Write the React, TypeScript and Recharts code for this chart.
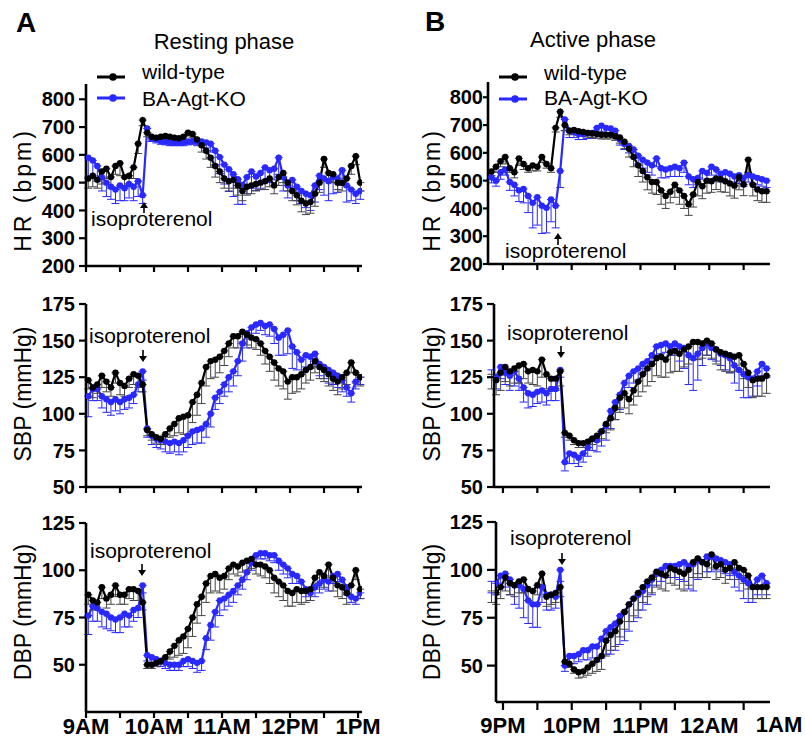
import React from "react";
import { LineChart, Line, XAxis, YAxis, ErrorBar } from "recharts";

const FONT = '"Liberation Sans", Arial, Helvetica, sans-serif';
const BLUE = "#2828ff";

// minutes after 9AM (resting) / 9PM (active)
const restTimes = [2, 6, 10, 14, 18, 22, 26, 30, 34, 38, 42, 46, 50, 54, 58, 62, 66, 70, 74, 78, 82, 86, 90, 94, 98, 102, 106, 110, 114, 118, 122, 126, 130, 134, 138, 142, 146, 150, 154, 158, 162, 166, 170, 174, 178, 182, 186, 190, 194, 198, 202, 206, 210, 214, 218, 222, 226, 230, 234, 238, 242];
const activeTimes = [-10, -6, -2, 2, 6, 10, 14, 18, 22, 26, 30, 34, 38, 42, 46, 50, 54, 58, 62, 66, 70, 74, 78, 82, 86, 90, 94, 98, 102, 106, 110, 114, 118, 122, 126, 130, 134, 138, 142, 146, 150, 154, 158, 162, 166, 170, 174, 178, 182, 186, 190, 194, 198, 202, 206, 210, 214, 218, 222, 226, 230];

const restHourLabels = ["9AM", "10AM", "11AM", "12PM", "1PM"];
const activeHourLabels = ["9PM", "10PM", "11PM", "12AM", "1AM"];

const hrTicks = [200, 300, 400, 500, 600, 700, 800];
const sbpTicks = [50, 75, 100, 125, 150, 175];
const dbpTicks = [50, 75, 100, 125];

// HR, resting
const hrRestWT = [515, 525, 510, 540, 550, 520, 560, 570, 520, 525, 555, 640, 725, 680, 665, 662, 665, 668, 665, 662, 660, 665, 680, 675, 655, 635, 615, 590, 560, 540, 515, 505, 510, 490, 470, 485, 490, 495, 500, 505, 515, 490, 520, 535, 500, 470, 455, 435, 425, 430, 460, 500, 585, 535, 530, 500, 500, 515, 560, 595, 500];
const hrRestWTErr = [35, 40, 30, 45, 35, 40, 30, 45, 35, 30, 40, 35, 20, 15, 12, 12, 12, 12, 12, 12, 12, 12, 12, 12, 15, 25, 30, 35, 40, 40, 35, 35, 30, 35, 35, 30, 30, 25, 25, 30, 30, 30, 30, 35, 30, 35, 35, 40, 40, 40, 45, 35, 30, 30, 30, 25, 30, 30, 30, 30, 30];
const hrRestKO = [590, 580, 560, 520, 500, 485, 475, 490, 480, 495, 485, 505, 455, 695, 660, 655, 650, 648, 645, 645, 645, 645, 648, 650, 648, 648, 645, 640, 615, 592, 565, 548, 530, 512, 492, 520, 540, 522, 535, 555, 545, 550, 590, 520, 490, 510, 485, 470, 460, 455, 490, 525, 515, 505, 520, 515, 545, 490, 475, 460, 470];
const hrRestKOErr = [70, 60, 55, 50, 50, 45, 50, 55, 45, 50, 50, 55, 30, 15, 12, 12, 12, 12, 12, 12, 12, 12, 12, 12, 15, 15, 20, 30, 50, 60, 70, 80, 80, 90, 70, 60, 60, 50, 55, 50, 45, 40, 60, 50, 45, 40, 50, 45, 50, 55, 60, 50, 60, 70, 60, 50, 55, 60, 40, 35, 30];

// HR, active
const hrActWT = [533, 550, 570, 585, 545, 530, 580, 560, 545, 555, 550, 585, 560, 545, 690, 748, 700, 680, 682, 678, 675, 672, 670, 668, 665, 665, 665, 660, 655, 640, 615, 585, 555, 535, 512, 495, 495, 465, 445, 460, 485, 465, 445, 415, 450, 495, 480, 500, 498, 508, 505, 498, 490, 482, 512, 486, 575, 485, 468, 462, 462];
const hrActWTErr = [15, 20, 20, 25, 15, 20, 25, 20, 15, 20, 15, 20, 15, 15, 15, 20, 20, 15, 15, 15, 15, 15, 15, 15, 15, 15, 15, 15, 20, 25, 30, 35, 40, 40, 45, 40, 45, 50, 45, 40, 45, 50, 45, 40, 45, 50, 45, 45, 40, 40, 45, 40, 45, 45, 45, 40, 45, 40, 40, 40, 40];
const hrActKO = [512, 500, 530, 540, 495, 485, 465, 470, 445, 420, 440, 410, 402, 432, 410, 535, 720, 680, 675, 668, 668, 672, 672, 690, 698, 690, 688, 680, 648, 632, 625, 612, 590, 575, 565, 555, 580, 545, 540, 545, 550, 545, 565, 515, 505, 510, 535, 528, 550, 540, 525, 530, 525, 515, 520, 510, 520, 515, 510, 505, 500];
const hrActKOErr = [20, 20, 25, 20, 30, 40, 40, 50, 60, 90, 100, 100, 90, 80, 80, 60, 40, 25, 20, 20, 20, 20, 20, 20, 20, 20, 20, 20, 20, 20, 25, 30, 30, 30, 35, 35, 30, 35, 30, 30, 35, 30, 35, 30, 30, 25, 30, 30, 30, 30, 30, 30, 30, 25, 30, 30, 25, 25, 25, 25, 25];

// SBP, resting
const sbpRestWT = [123, 118, 120, 126, 122, 118, 128, 121, 119, 124, 127, 126, 120, 89, 86, 84, 83, 86, 90, 93, 97, 98, 99, 108, 113, 121, 132, 136, 137, 139, 143, 148, 153, 153, 156, 154, 152, 151, 148, 143, 139, 135, 131, 129, 122, 125, 125, 127, 130, 132, 136, 132, 130, 127, 124, 122, 125, 128, 135, 128, 125];
const sbpRestWTErr = [6, 7, 6, 8, 7, 6, 7, 8, 7, 6, 7, 8, 5, 4, 4, 4, 4, 5, 6, 8, 10, 12, 13, 14, 14, 14, 13, 12, 12, 11, 10, 9, 8, 8, 7, 7, 7, 7, 8, 9, 10, 12, 12, 12, 12, 11, 10, 10, 9, 9, 8, 8, 8, 8, 8, 9, 8, 8, 7, 7, 6];
const sbpRestKO = [112, 117, 117, 112, 110, 108, 110, 108, 110, 111, 113, 120, 129, 90, 85, 83, 82, 81, 80, 81, 80, 82, 85, 88, 89, 90, 93, 100, 111, 115, 120, 125, 129, 136, 148, 155, 159, 161, 162, 160, 161, 158, 152, 154, 157, 146, 142, 137, 140, 139, 141, 134, 132, 130, 128, 126, 123, 118, 114, 122, 125];
const sbpRestKOErr = [14, 8, 8, 8, 9, 9, 8, 8, 7, 7, 6, 5, 6, 6, 6, 6, 6, 7, 7, 7, 8, 8, 8, 9, 9, 10, 9, 9, 8, 8, 8, 10, 10, 10, 12, 10, 8, 6, 5, 6, 8, 10, 12, 14, 16, 15, 12, 10, 8, 8, 9, 8, 8, 9, 8, 8, 8, 6, 6, 5, 5];

// SBP, active
const sbpActWT = [127, 123, 128, 132, 129, 131, 133, 134, 129, 130, 129, 137, 127, 124, 124, 129, 87, 85, 82, 80, 80, 81, 83, 85, 88, 93, 97, 104, 111, 114, 110, 116, 122, 127, 131, 134, 138, 139, 137, 142, 143, 141, 144, 146, 149, 149, 148, 150, 148, 144, 142, 141, 140, 139, 140, 134, 128, 123, 124, 124, 126];
const sbpActWTErr = [10, 10, 12, 10, 10, 10, 12, 10, 8, 10, 10, 12, 10, 8, 8, 10, 3, 3, 3, 3, 3, 4, 4, 4, 5, 6, 8, 8, 10, 10, 10, 10, 10, 12, 12, 12, 12, 14, 12, 14, 14, 12, 12, 12, 12, 12, 10, 10, 10, 10, 12, 12, 12, 10, 10, 10, 10, 12, 12, 12, 12];
const sbpActKO = [130, 125, 132, 128, 126, 129, 124, 118, 114, 113, 115, 116, 114, 117, 117, 130, 67, 73, 72, 70, 73, 77, 83, 82, 88, 92, 102, 108, 113, 121, 126, 129, 131, 134, 136, 140, 146, 147, 148, 146, 148, 146, 145, 140, 138, 141, 145, 148, 145, 144, 141, 140, 138, 133, 130, 127, 125, 124, 129, 134, 131];
const sbpActKOErr = [5, 8, 8, 8, 10, 10, 8, 10, 10, 8, 8, 8, 8, 8, 8, 5, 6, 7, 6, 6, 6, 6, 8, 8, 10, 10, 12, 12, 10, 10, 8, 8, 8, 6, 6, 6, 6, 6, 6, 6, 8, 10, 14, 20, 22, 18, 12, 8, 8, 8, 8, 10, 10, 12, 14, 16, 14, 12, 10, 8, 6];

// DBP, resting
const dbpRestWT = [87, 84, 83, 91, 85, 87, 92, 87, 87, 90, 90, 89, 83, 50, 50, 51, 52, 54, 57, 60, 63, 65, 69, 75, 82, 86, 93, 97, 98, 96, 97, 101, 103, 102, 104, 105, 106, 103, 103, 102, 100, 96, 94, 92, 89, 88, 90, 89, 89, 90, 96, 99, 97, 103, 96, 92, 91, 88, 92, 100, 90];
const dbpRestWTErr = [5, 5, 4, 6, 5, 5, 6, 5, 5, 5, 6, 5, 4, 2, 2, 2, 2, 3, 4, 6, 8, 9, 10, 10, 10, 10, 10, 9, 9, 8, 7, 6, 5, 5, 5, 5, 5, 5, 6, 6, 7, 8, 8, 8, 8, 7, 7, 7, 6, 6, 6, 6, 6, 7, 7, 6, 6, 6, 6, 5, 5];
const dbpRestKO = [76, 81, 80, 78, 77, 75, 74, 75, 77, 76, 79, 80, 92, 55, 54, 53, 52, 51, 50, 50, 50, 52, 53, 52, 51, 52, 64, 71, 78, 84, 85, 87, 89, 92, 95, 99, 104, 108, 109, 109, 108, 108, 105, 103, 101, 98, 97, 94, 90, 88, 91, 93, 95, 94, 97, 98, 95, 91, 86, 85, 88];
const dbpRestKOErr = [10, 8, 7, 8, 8, 7, 7, 8, 7, 6, 6, 5, 4, 3, 3, 3, 3, 3, 3, 3, 3, 3, 4, 4, 5, 5, 6, 8, 8, 8, 6, 6, 6, 5, 5, 4, 4, 4, 3, 3, 3, 4, 5, 5, 5, 5, 4, 4, 4, 4, 5, 5, 5, 5, 4, 4, 4, 4, 3, 3, 3];

// DBP, active
const dbpActWT = [89, 88, 91, 96, 93, 92, 94, 95, 90, 89, 92, 98, 86, 87, 88, 91, 52, 51, 48, 46.5, 47, 49, 51, 53, 55, 63, 66, 68, 73, 78, 82, 85, 88, 91, 94, 96, 99, 98, 97, 101, 100, 99, 98, 100, 104, 106, 104, 103, 108, 102, 103, 100, 101, 104, 101, 100, 97, 91, 91, 91, 91];
const dbpActWTErr = [6, 6, 6, 7, 6, 6, 6, 7, 6, 6, 5, 6, 5, 5, 5, 5, 2, 2, 2, 3, 3, 4, 5, 6, 7, 8, 8, 8, 8, 9, 9, 9, 9, 8, 8, 8, 8, 8, 8, 8, 8, 9, 9, 8, 8, 8, 8, 7, 7, 7, 7, 7, 6, 6, 6, 7, 7, 6, 6, 6, 6];
const dbpActKO = [94, 93, 97, 98, 95, 92, 92, 90, 84, 82, 82, 91, 87, 87, 86, 100, 50, 55, 55, 56, 58, 58, 60, 60, 64, 68, 70, 72, 76, 78, 82, 85, 87, 89, 92, 95, 98, 100, 102, 102, 102, 103, 104, 102, 103, 105, 104, 107, 107, 106, 105, 104, 103, 99, 97, 95, 93, 91, 95, 97, 93];
const dbpActKOErr = [6, 6, 6, 7, 8, 10, 12, 15, 12, 12, 12, 8, 8, 8, 6, 6, 3, 4, 4, 4, 5, 5, 6, 8, 10, 12, 14, 14, 15, 15, 14, 12, 12, 10, 10, 8, 6, 6, 6, 6, 6, 8, 10, 12, 14, 10, 8, 8, 8, 6, 6, 6, 6, 8, 8, 10, 10, 8, 8, 6, 6];

const buildRows = (times: number[], wt: number[], wtErr: number[], ko: number[], koErr: number[]) =>
  times.map((t, i) => ({
    t,
    wt: wt[i],
    ko: ko[i],
    wtErr: [wtErr[i], 0],
    koErr: [koErr[i], 0],
  }));

const restTicks = [0, 30, 60, 90, 120, 150, 180, 210, 240];
const activeTicks = [0, 30, 60, 90, 120, 150, 180, 210];
const restFormat = (v: number) => (v % 60 === 0 ? restHourLabels[v / 60] : "");
const activeFormat = (v: number) => (v % 60 === 0 ? activeHourLabels[v / 60] : "");
const noLabel = () => "";

type PanelProps = {
  left: number;
  top: number;
  width: number;
  right: number;
  plotH: number;
  xAxisH: number;
  yAxisW: number;
  rows: any[];
  yDomain: [number, number];
  yTicks: number[];
  yTickSize: number;
  yTickMargin: number;
  xDomain: [number, number];
  xTicks: number[];
  xFormat: (v: number) => string;
  xTickSize: number;
  xTickMargin: number;
};

const Panel = (p: PanelProps) => {
  const mt = 10;
  return (
    <div style={{ position: "absolute", left: p.left, top: p.top - mt }}>
      <LineChart
        width={p.width}
        height={mt + p.plotH + p.xAxisH}
        data={p.rows}
        margin={{ top: mt, right: p.right, bottom: 0, left: 0 }}
      >
        <XAxis
          dataKey="t"
          type="number"
          domain={p.xDomain}
          ticks={p.xTicks}
          interval={0}
          allowDataOverflow
          height={p.xAxisH}
          tickSize={p.xTickSize}
          tickMargin={p.xTickMargin}
          tickFormatter={p.xFormat}
          axisLine={{ stroke: "#000", strokeWidth: 2.6 }}
          tickLine={{ stroke: "#000", strokeWidth: 2.2 }}
          tick={{ fill: "#000", fontSize: 22, fontWeight: 700, fontFamily: FONT }}
        />
        <YAxis
          type="number"
          domain={p.yDomain}
          ticks={p.yTicks}
          interval={0}
          allowDataOverflow
          width={p.yAxisW}
          tickSize={p.yTickSize}
          tickMargin={p.yTickMargin}
          axisLine={{ stroke: "#000", strokeWidth: 2.6 }}
          tickLine={{ stroke: "#000", strokeWidth: 2.2 }}
          tick={{ fill: "#000", fontSize: 20, fontWeight: 700, fontFamily: FONT }}
        />
        <Line
          dataKey="ko"
          type="linear"
          stroke={BLUE}
          strokeWidth={2.2}
          dot={{ r: 3.2, fill: BLUE, stroke: BLUE, strokeWidth: 0 }}
          activeDot={false}
          isAnimationActive={false}
        >
          <ErrorBar dataKey="koErr" direction="y" width={4} stroke={BLUE} strokeWidth={1} />
        </Line>
        <Line
          dataKey="wt"
          type="linear"
          stroke="#000"
          strokeWidth={2.2}
          dot={{ r: 3.2, fill: "#000", stroke: "#000", strokeWidth: 0 }}
          activeDot={false}
          isAnimationActive={false}
        >
          <ErrorBar dataKey="wtErr" direction="y" width={4} stroke="#444" strokeWidth={1} />
        </Line>
      </LineChart>
    </div>
  );
};

const Txt = ({ x, baseline, size, bold, center, children }: any) => (
  <div
    style={{
      position: "absolute",
      left: x,
      top: baseline - 0.8465 * size,
      fontSize: size,
      lineHeight: 1,
      fontWeight: bold ? 700 : 400,
      fontFamily: FONT,
      whiteSpace: "nowrap",
      color: "#000",
      transform: center ? "translateX(-50%)" : undefined,
    }}
  >
    {children}
  </div>
);

const VLabel = ({ cx, cy, spacing, children }: any) => (
  <div
    style={{
      position: "absolute",
      left: cx,
      top: cy,
      fontSize: 23,
      lineHeight: 1,
      fontFamily: FONT,
      letterSpacing: spacing || 0,
      whiteSpace: "nowrap",
      transform: "translate(-50%, -50%) rotate(-90deg)",
    }}
  >
    {children}
  </div>
);

const Arrow = ({ x, y1, y2 }: any) => {
  // y1 = tail, y2 = tip
  const up = y2 < y1;
  const h = 6;
  const base = up ? y2 + h : y2 - h;
  return (
    <svg style={{ position: "absolute", left: 0, top: 0, overflow: "visible" }} width={1} height={1}>
      <line x1={x} y1={y1} x2={x} y2={base} stroke="#000" strokeWidth={1.6} />
      <polygon points={`${x - 4},${base} ${x + 4},${base} ${x},${y2}`} fill="#000" />
    </svg>
  );
};

const LegendItem = ({ x, y, color }: any) => (
  <svg style={{ position: "absolute", left: 0, top: 0, overflow: "visible" }} width={1} height={1}>
    <line x1={x} y1={y} x2={x + 28} y2={y} stroke={color} strokeWidth={3} />
    <circle cx={x + 16} cy={y} r={3.8} fill={color} />
  </svg>
);

export default function App() {
  const hrRest = buildRows(restTimes, hrRestWT, hrRestWTErr, hrRestKO, hrRestKOErr);
  const hrAct = buildRows(activeTimes, hrActWT, hrActWTErr, hrActKO, hrActKOErr);
  const sbpRest = buildRows(restTimes, sbpRestWT, sbpRestWTErr, sbpRestKO, sbpRestKOErr);
  const sbpAct = buildRows(activeTimes, sbpActWT, sbpActWTErr, sbpActKO, sbpActKOErr);
  const dbpRest = buildRows(restTimes, dbpRestWT, dbpRestWTErr, dbpRestKO, dbpRestKOErr);
  const dbpAct = buildRows(activeTimes, dbpActWT, dbpActWTErr, dbpActKO, dbpActKOErr);

  const restX: [number, number] = [0, 243.5];

  return (
    <div style={{ position: "absolute", left: 0, top: 0, width: 805, height: 740, background: "#fff", overflow: "hidden" }}>
      {/* left column: resting phase */}
      <Panel left={0} top={84} width={392} right={30} plotH={182} xAxisH={12} yAxisW={86} rows={hrRest}
        yDomain={[200, 855]} yTicks={hrTicks} yTickSize={7} yTickMargin={4}
        xDomain={restX} xTicks={restTicks} xFormat={noLabel} xTickSize={6} xTickMargin={0} />
      <Panel left={0} top={304} width={392} right={30} plotH={183} xAxisH={12} yAxisW={86} rows={sbpRest}
        yDomain={[50, 175]} yTicks={sbpTicks} yTickSize={7} yTickMargin={4}
        xDomain={restX} xTicks={restTicks} xFormat={noLabel} xTickSize={6} xTickMargin={0} />
      <Panel left={0} top={523} width={392} right={30} plotH={189} xAxisH={34} yAxisW={86} rows={dbpRest}
        yDomain={[25, 125]} yTicks={dbpTicks} yTickSize={7} yTickMargin={4}
        xDomain={restX} xTicks={restTicks} xFormat={restFormat} xTickSize={6} xTickMargin={0} />

      {/* right column: active phase */}
      <Panel left={400} top={82} width={378} right={8} plotH={182} xAxisH={12} yAxisW={88} rows={hrAct}
        yDomain={[200, 855]} yTicks={hrTicks} yTickSize={5} yTickMargin={0}
        xDomain={[-13, 233]} xTicks={activeTicks} xFormat={noLabel} xTickSize={6} xTickMargin={0} />
      <Panel left={400} top={304} width={378} right={8} plotH={183} xAxisH={12} yAxisW={94} rows={sbpAct}
        yDomain={[50, 175]} yTicks={sbpTicks} yTickSize={7} yTickMargin={4}
        xDomain={[-7.8, 233]} xTicks={activeTicks} xFormat={noLabel} xTickSize={6} xTickMargin={0} />
      <Panel left={400} top={522} width={378} right={8} plotH={180} xAxisH={40} yAxisW={96} rows={dbpAct}
        yDomain={[31, 125]} yTicks={dbpTicks} yTickSize={9} yTickMargin={4}
        xDomain={[-6.1, 233]} xTicks={activeTicks} xFormat={activeFormat} xTickSize={8} xTickMargin={7} />
      <Txt x={779} baseline={733} size={22} bold center>{activeHourLabels[4]}</Txt>

      {/* panel letters and titles */}
      <Txt x={16} baseline={33} size={28} bold>A</Txt>
      <Txt x={425} baseline={32} size={28} bold>B</Txt>
      <Txt x={224} baseline={50} size={22} center>Resting phase</Txt>
      <Txt x={593} baseline={48} size={22} center>Active phase</Txt>

      {/* legends */}
      <LegendItem x={97} y={77} color="#000" />
      <Txt x={142} baseline={79} size={21}>wild-type</Txt>
      <LegendItem x={97} y={98} color={BLUE} />
      <Txt x={142} baseline={106} size={21}>BA-Agt-KO</Txt>
      <LegendItem x={499} y={77} color="#000" />
      <Txt x={544} baseline={80} size={21}>wild-type</Txt>
      <LegendItem x={499} y={99} color={BLUE} />
      <Txt x={544} baseline={105} size={21}>BA-Agt-KO</Txt>

      {/* y axis titles */}
      <VLabel cx={23} cy={190} spacing={3}>HR (bpm)</VLabel>
      <VLabel cx={23} cy={394}>SBP (mmHg)</VLabel>
      <VLabel cx={23} cy={612}>DBP (mmHg)</VLabel>
      <VLabel cx={432} cy={190} spacing={3}>HR (bpm)</VLabel>
      <VLabel cx={432} cy={394}>SBP (mmHg)</VLabel>
      <VLabel cx={432} cy={612}>DBP (mmHg)</VLabel>

      {/* isoproterenol annotations */}
      <Txt x={91} baseline={226} size={21}>isoproterenol</Txt>
      <Arrow x={144} y1={213} y2={202} />
      <Txt x={505} baseline={258} size={21}>isoproterenol</Txt>
      <Arrow x={558} y1={245} y2={233} />
      <Txt x={89} baseline={343} size={21}>isoproterenol</Txt>
      <Arrow x={143} y1={350} y2={362} />
      <Txt x={507} baseline={340} size={21}>isoproterenol</Txt>
      <Arrow x={561} y1={346} y2={358} />
      <Txt x={90} baseline={558} size={21}>isoproterenol</Txt>
      <Arrow x={142} y1={564} y2={576} />
      <Txt x={510} baseline={545} size={21}>isoproterenol</Txt>
      <Arrow x={562} y1={553} y2={565} />
    </div>
  );
}
